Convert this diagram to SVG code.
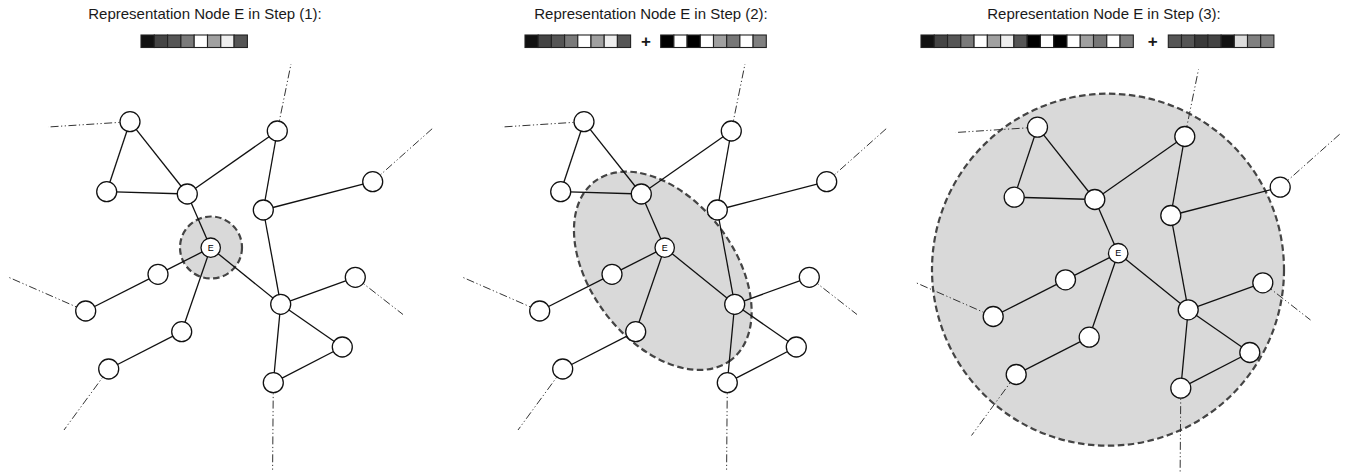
<svg xmlns="http://www.w3.org/2000/svg" width="1351" height="474" viewBox="0 0 1351 474">
  <style>
    .title { font-family: "Liberation Sans", Arial, sans-serif; font-size: 15px; fill: #1a1a1a; text-anchor: middle; }
    .plus { font-family: "Liberation Sans", Arial, sans-serif; font-size: 17px; font-weight: bold; fill: #1a1a1a; text-anchor: middle; }
    .cell { stroke: #222; stroke-width: 1.1; }
    .shade { fill: #d9d9d9; stroke: #444; stroke-width: 2.2; stroke-dasharray: 6.5 3.5; }
    .edge { stroke: #111; stroke-width: 1.3; fill: none; }
    .ext { stroke: #333; stroke-width: 1; fill: none; stroke-dasharray: 8 2.5 1.2 2.5 1.2 2.5; }
    .node circle { fill: #fff; stroke: #111; stroke-width: 1.3; }
    .lbl { font-family: "Liberation Sans", Arial, sans-serif; font-size: 9px; fill: #000; text-anchor: middle; }
  </style>

  <!-- Titles -->
  <text class="title" x="205" y="19">Representation Node E in Step (1):</text>
  <text class="title" x="651" y="19">Representation Node E in Step (2):</text>
  <text class="title" x="1104" y="19">Representation Node E in Step (3):</text>

  <!-- Feature vectors -->
  <g id="vec-1">
    <rect class="cell" x="141" y="35" width="13.3" height="12.5" fill="#111"/>
    <rect class="cell" x="154.3" y="35" width="13.3" height="12.5" fill="#444"/>
    <rect class="cell" x="167.6" y="35" width="13.3" height="12.5" fill="#555"/>
    <rect class="cell" x="180.9" y="35" width="13.3" height="12.5" fill="#7a7a7a"/>
    <rect class="cell" x="194.2" y="35" width="13.3" height="12.5" fill="#fff"/>
    <rect class="cell" x="207.5" y="35" width="13.3" height="12.5" fill="#a0a0a0"/>
    <rect class="cell" x="220.8" y="35" width="13.3" height="12.5" fill="#eee"/>
    <rect class="cell" x="234.1" y="35" width="13.3" height="12.5" fill="#555"/>
  </g>

  <g id="vec-2">
    <rect class="cell" x="525" y="35" width="13.2" height="12.5" fill="#111"/>
    <rect class="cell" x="538.2" y="35" width="13.2" height="12.5" fill="#444"/>
    <rect class="cell" x="551.4" y="35" width="13.2" height="12.5" fill="#555"/>
    <rect class="cell" x="564.6" y="35" width="13.2" height="12.5" fill="#7a7a7a"/>
    <rect class="cell" x="577.8" y="35" width="13.2" height="12.5" fill="#fff"/>
    <rect class="cell" x="591" y="35" width="13.2" height="12.5" fill="#a0a0a0"/>
    <rect class="cell" x="604.2" y="35" width="13.2" height="12.5" fill="#eee"/>
    <rect class="cell" x="617.4" y="35" width="13.2" height="12.5" fill="#555"/>
    <text class="plus" x="646" y="47">+</text>
    <rect class="cell" x="660.7" y="35" width="13.2" height="12.5" fill="#000"/>
    <rect class="cell" x="673.9" y="35" width="13.2" height="12.5" fill="#fff"/>
    <rect class="cell" x="687.1" y="35" width="13.2" height="12.5" fill="#000"/>
    <rect class="cell" x="700.3" y="35" width="13.2" height="12.5" fill="#fff"/>
    <rect class="cell" x="713.5" y="35" width="13.2" height="12.5" fill="#a0a0a0"/>
    <rect class="cell" x="726.7" y="35" width="13.2" height="12.5" fill="#777"/>
    <rect class="cell" x="739.9" y="35" width="13.2" height="12.5" fill="#fff"/>
    <rect class="cell" x="753.1" y="35" width="13.2" height="12.5" fill="#808080"/>
  </g>

  <g id="vec-3">
    <rect class="cell" x="921" y="35" width="13.27" height="12.5" fill="#111"/>
    <rect class="cell" x="934.27" y="35" width="13.27" height="12.5" fill="#444"/>
    <rect class="cell" x="947.54" y="35" width="13.27" height="12.5" fill="#555"/>
    <rect class="cell" x="960.81" y="35" width="13.27" height="12.5" fill="#7a7a7a"/>
    <rect class="cell" x="974.08" y="35" width="13.27" height="12.5" fill="#fff"/>
    <rect class="cell" x="987.35" y="35" width="13.27" height="12.5" fill="#a0a0a0"/>
    <rect class="cell" x="1000.62" y="35" width="13.27" height="12.5" fill="#eee"/>
    <rect class="cell" x="1013.89" y="35" width="13.27" height="12.5" fill="#555"/>
    <rect class="cell" x="1027.16" y="35" width="13.27" height="12.5" fill="#000"/>
    <rect class="cell" x="1040.43" y="35" width="13.27" height="12.5" fill="#fff"/>
    <rect class="cell" x="1053.7" y="35" width="13.27" height="12.5" fill="#000"/>
    <rect class="cell" x="1066.97" y="35" width="13.27" height="12.5" fill="#fff"/>
    <rect class="cell" x="1080.24" y="35" width="13.27" height="12.5" fill="#a0a0a0"/>
    <rect class="cell" x="1093.51" y="35" width="13.27" height="12.5" fill="#777"/>
    <rect class="cell" x="1106.78" y="35" width="13.27" height="12.5" fill="#fff"/>
    <rect class="cell" x="1120.05" y="35" width="13.27" height="12.5" fill="#808080"/>
    <text class="plus" x="1152.7" y="47">+</text>
    <rect class="cell" x="1168.3" y="35" width="13.2" height="12.5" fill="#555"/>
    <rect class="cell" x="1181.5" y="35" width="13.2" height="12.5" fill="#555"/>
    <rect class="cell" x="1194.7" y="35" width="13.2" height="12.5" fill="#3a3a3a"/>
    <rect class="cell" x="1207.9" y="35" width="13.2" height="12.5" fill="#444"/>
    <rect class="cell" x="1221.1" y="35" width="13.2" height="12.5" fill="#111"/>
    <rect class="cell" x="1234.3" y="35" width="13.2" height="12.5" fill="#ddd"/>
    <rect class="cell" x="1247.5" y="35" width="13.2" height="12.5" fill="#808080"/>
    <rect class="cell" x="1260.7" y="35" width="13.2" height="12.5" fill="#808080"/>
  </g>

  <!-- Panel 1: neighbourhood of E after step 1 -->
  <g id="panel-1">
    <circle class="shade" cx="211" cy="247.5" r="31"/>
    <g id="p1-connectors">
      <line class="ext" x1="130" y1="121.7" x2="48" y2="127"/>
      <line class="ext" x1="277.3" y1="131" x2="291" y2="64"/>
      <line class="ext" x1="372.7" y1="181.7" x2="433" y2="128"/>
      <line class="ext" x1="85.7" y1="311" x2="8" y2="277"/>
      <line class="ext" x1="108.7" y1="369" x2="64" y2="430"/>
      <line class="ext" x1="355.3" y1="277.3" x2="403" y2="314.5"/>
      <line class="ext" x1="273.3" y1="382.7" x2="272.6" y2="470"/>
      <line class="edge" x1="130" y1="121.7" x2="106.7" y2="191.7"/>
      <line class="edge" x1="130" y1="121.7" x2="187.3" y2="194"/>
      <line class="edge" x1="106.7" y1="191.7" x2="187.3" y2="194"/>
      <line class="edge" x1="187.3" y1="194" x2="277.3" y2="131"/>
      <line class="edge" x1="187.3" y1="194" x2="210.7" y2="247.7"/>
      <line class="edge" x1="277.3" y1="131" x2="263.3" y2="210"/>
      <line class="edge" x1="263.3" y1="210" x2="372.7" y2="181.7"/>
      <line class="edge" x1="263.3" y1="210" x2="280.7" y2="304.3"/>
      <line class="edge" x1="210.7" y1="247.7" x2="158" y2="274.3"/>
      <line class="edge" x1="158" y1="274.3" x2="85.7" y2="311"/>
      <line class="edge" x1="210.7" y1="247.7" x2="181.7" y2="331.7"/>
      <line class="edge" x1="181.7" y1="331.7" x2="108.7" y2="369"/>
      <line class="edge" x1="210.7" y1="247.7" x2="280.7" y2="304.3"/>
      <line class="edge" x1="280.7" y1="304.3" x2="355.3" y2="277.3"/>
      <line class="edge" x1="280.7" y1="304.3" x2="342.3" y2="347"/>
      <line class="edge" x1="280.7" y1="304.3" x2="273.3" y2="382.7"/>
      <line class="edge" x1="342.3" y1="347" x2="273.3" y2="382.7"/>
    </g>
    <g id="p1-A" class="node"><circle cx="130" cy="121.7" r="10"/></g>
    <g id="p1-B" class="node"><circle cx="106.7" cy="191.7" r="10"/></g>
    <g id="p1-C" class="node"><circle cx="187.3" cy="194" r="10"/></g>
    <g id="p1-D" class="node"><circle cx="277.3" cy="131" r="10"/></g>
    <g id="p1-F" class="node"><circle cx="372.7" cy="181.7" r="10"/></g>
    <g id="p1-G" class="node"><circle cx="263.3" cy="210" r="10"/></g>
    <g id="p1-E" class="node"><circle cx="210.7" cy="247.7" r="9.7"/><text class="lbl" x="210.7" y="250.9">E</text></g>
    <g id="p1-H" class="node"><circle cx="158" cy="274.3" r="10"/></g>
    <g id="p1-I" class="node"><circle cx="85.7" cy="311" r="10"/></g>
    <g id="p1-J" class="node"><circle cx="181.7" cy="331.7" r="10"/></g>
    <g id="p1-K" class="node"><circle cx="108.7" cy="369" r="10"/></g>
    <g id="p1-L" class="node"><circle cx="280.7" cy="304.3" r="10"/></g>
    <g id="p1-M" class="node"><circle cx="355.3" cy="277.3" r="10"/></g>
    <g id="p1-N" class="node"><circle cx="342.3" cy="347" r="10"/></g>
    <g id="p1-O" class="node"><circle cx="273.3" cy="382.7" r="10"/></g>
  </g>

  <!-- Panel 2: neighbourhood of E after step 2 -->
  <g id="panel-2" transform="translate(454,0)">
    <ellipse class="shade" cx="0" cy="0" rx="112.3" ry="71.5" transform="translate(208.8,270.8) rotate(52.5)"/>
    <g id="p2-connectors">
      <line class="ext" x1="130" y1="121.7" x2="48" y2="127"/>
      <line class="ext" x1="277.3" y1="131" x2="291" y2="64"/>
      <line class="ext" x1="372.7" y1="181.7" x2="433" y2="128"/>
      <line class="ext" x1="85.7" y1="311" x2="8" y2="277"/>
      <line class="ext" x1="108.7" y1="369" x2="64" y2="430"/>
      <line class="ext" x1="355.3" y1="277.3" x2="403" y2="314.5"/>
      <line class="ext" x1="273.3" y1="382.7" x2="272.6" y2="470"/>
      <line class="edge" x1="130" y1="121.7" x2="106.7" y2="191.7"/>
      <line class="edge" x1="130" y1="121.7" x2="187.3" y2="194"/>
      <line class="edge" x1="106.7" y1="191.7" x2="187.3" y2="194"/>
      <line class="edge" x1="187.3" y1="194" x2="277.3" y2="131"/>
      <line class="edge" x1="187.3" y1="194" x2="210.7" y2="247.7"/>
      <line class="edge" x1="277.3" y1="131" x2="263.3" y2="210"/>
      <line class="edge" x1="263.3" y1="210" x2="372.7" y2="181.7"/>
      <line class="edge" x1="263.3" y1="210" x2="280.7" y2="304.3"/>
      <line class="edge" x1="210.7" y1="247.7" x2="158" y2="274.3"/>
      <line class="edge" x1="158" y1="274.3" x2="85.7" y2="311"/>
      <line class="edge" x1="210.7" y1="247.7" x2="181.7" y2="331.7"/>
      <line class="edge" x1="181.7" y1="331.7" x2="108.7" y2="369"/>
      <line class="edge" x1="210.7" y1="247.7" x2="280.7" y2="304.3"/>
      <line class="edge" x1="280.7" y1="304.3" x2="355.3" y2="277.3"/>
      <line class="edge" x1="280.7" y1="304.3" x2="342.3" y2="347"/>
      <line class="edge" x1="280.7" y1="304.3" x2="273.3" y2="382.7"/>
      <line class="edge" x1="342.3" y1="347" x2="273.3" y2="382.7"/>
    </g>
    <g id="p2-A" class="node"><circle cx="130" cy="121.7" r="10"/></g>
    <g id="p2-B" class="node"><circle cx="106.7" cy="191.7" r="10"/></g>
    <g id="p2-C" class="node"><circle cx="187.3" cy="194" r="10"/></g>
    <g id="p2-D" class="node"><circle cx="277.3" cy="131" r="10"/></g>
    <g id="p2-F" class="node"><circle cx="372.7" cy="181.7" r="10"/></g>
    <g id="p2-G" class="node"><circle cx="263.3" cy="210" r="10"/></g>
    <g id="p2-E" class="node"><circle cx="210.7" cy="247.7" r="9.7"/><text class="lbl" x="210.7" y="250.9">E</text></g>
    <g id="p2-H" class="node"><circle cx="158" cy="274.3" r="10"/></g>
    <g id="p2-I" class="node"><circle cx="85.7" cy="311" r="10"/></g>
    <g id="p2-J" class="node"><circle cx="181.7" cy="331.7" r="10"/></g>
    <g id="p2-K" class="node"><circle cx="108.7" cy="369" r="10"/></g>
    <g id="p2-L" class="node"><circle cx="280.7" cy="304.3" r="10"/></g>
    <g id="p2-M" class="node"><circle cx="355.3" cy="277.3" r="10"/></g>
    <g id="p2-N" class="node"><circle cx="342.3" cy="347" r="10"/></g>
    <g id="p2-O" class="node"><circle cx="273.3" cy="382.7" r="10"/></g>
  </g>

  <!-- Panel 3: neighbourhood of E after step 3 -->
  <g id="panel-3" transform="translate(907.5,5.5)">
    <circle class="shade" cx="200.5" cy="264.2" r="176"/>
    <g id="p3-connectors">
      <line class="ext" x1="130" y1="121.7" x2="48" y2="127"/>
      <line class="ext" x1="277.3" y1="131" x2="291" y2="64"/>
      <line class="ext" x1="372.7" y1="181.7" x2="433" y2="128"/>
      <line class="ext" x1="85.7" y1="311" x2="8" y2="277"/>
      <line class="ext" x1="108.7" y1="369" x2="64" y2="430"/>
      <line class="ext" x1="355.3" y1="277.3" x2="403" y2="314.5"/>
      <line class="ext" x1="273.3" y1="382.7" x2="272.6" y2="470"/>
      <line class="edge" x1="130" y1="121.7" x2="106.7" y2="191.7"/>
      <line class="edge" x1="130" y1="121.7" x2="187.3" y2="194"/>
      <line class="edge" x1="106.7" y1="191.7" x2="187.3" y2="194"/>
      <line class="edge" x1="187.3" y1="194" x2="277.3" y2="131"/>
      <line class="edge" x1="187.3" y1="194" x2="210.7" y2="247.7"/>
      <line class="edge" x1="277.3" y1="131" x2="263.3" y2="210"/>
      <line class="edge" x1="263.3" y1="210" x2="372.7" y2="181.7"/>
      <line class="edge" x1="263.3" y1="210" x2="280.7" y2="304.3"/>
      <line class="edge" x1="210.7" y1="247.7" x2="158" y2="274.3"/>
      <line class="edge" x1="158" y1="274.3" x2="85.7" y2="311"/>
      <line class="edge" x1="210.7" y1="247.7" x2="181.7" y2="331.7"/>
      <line class="edge" x1="181.7" y1="331.7" x2="108.7" y2="369"/>
      <line class="edge" x1="210.7" y1="247.7" x2="280.7" y2="304.3"/>
      <line class="edge" x1="280.7" y1="304.3" x2="355.3" y2="277.3"/>
      <line class="edge" x1="280.7" y1="304.3" x2="342.3" y2="347"/>
      <line class="edge" x1="280.7" y1="304.3" x2="273.3" y2="382.7"/>
      <line class="edge" x1="342.3" y1="347" x2="273.3" y2="382.7"/>
    </g>
    <g id="p3-A" class="node"><circle cx="130" cy="121.7" r="10"/></g>
    <g id="p3-B" class="node"><circle cx="106.7" cy="191.7" r="10"/></g>
    <g id="p3-C" class="node"><circle cx="187.3" cy="194" r="10"/></g>
    <g id="p3-D" class="node"><circle cx="277.3" cy="131" r="10"/></g>
    <g id="p3-F" class="node"><circle cx="372.7" cy="181.7" r="10"/></g>
    <g id="p3-G" class="node"><circle cx="263.3" cy="210" r="10"/></g>
    <g id="p3-E" class="node"><circle cx="210.7" cy="247.7" r="9.7"/><text class="lbl" x="210.7" y="250.9">E</text></g>
    <g id="p3-H" class="node"><circle cx="158" cy="274.3" r="10"/></g>
    <g id="p3-I" class="node"><circle cx="85.7" cy="311" r="10"/></g>
    <g id="p3-J" class="node"><circle cx="181.7" cy="331.7" r="10"/></g>
    <g id="p3-K" class="node"><circle cx="108.7" cy="369" r="10"/></g>
    <g id="p3-L" class="node"><circle cx="280.7" cy="304.3" r="10"/></g>
    <g id="p3-M" class="node"><circle cx="355.3" cy="277.3" r="10"/></g>
    <g id="p3-N" class="node"><circle cx="342.3" cy="347" r="10"/></g>
    <g id="p3-O" class="node"><circle cx="273.3" cy="382.7" r="10"/></g>
  </g>
</svg>
